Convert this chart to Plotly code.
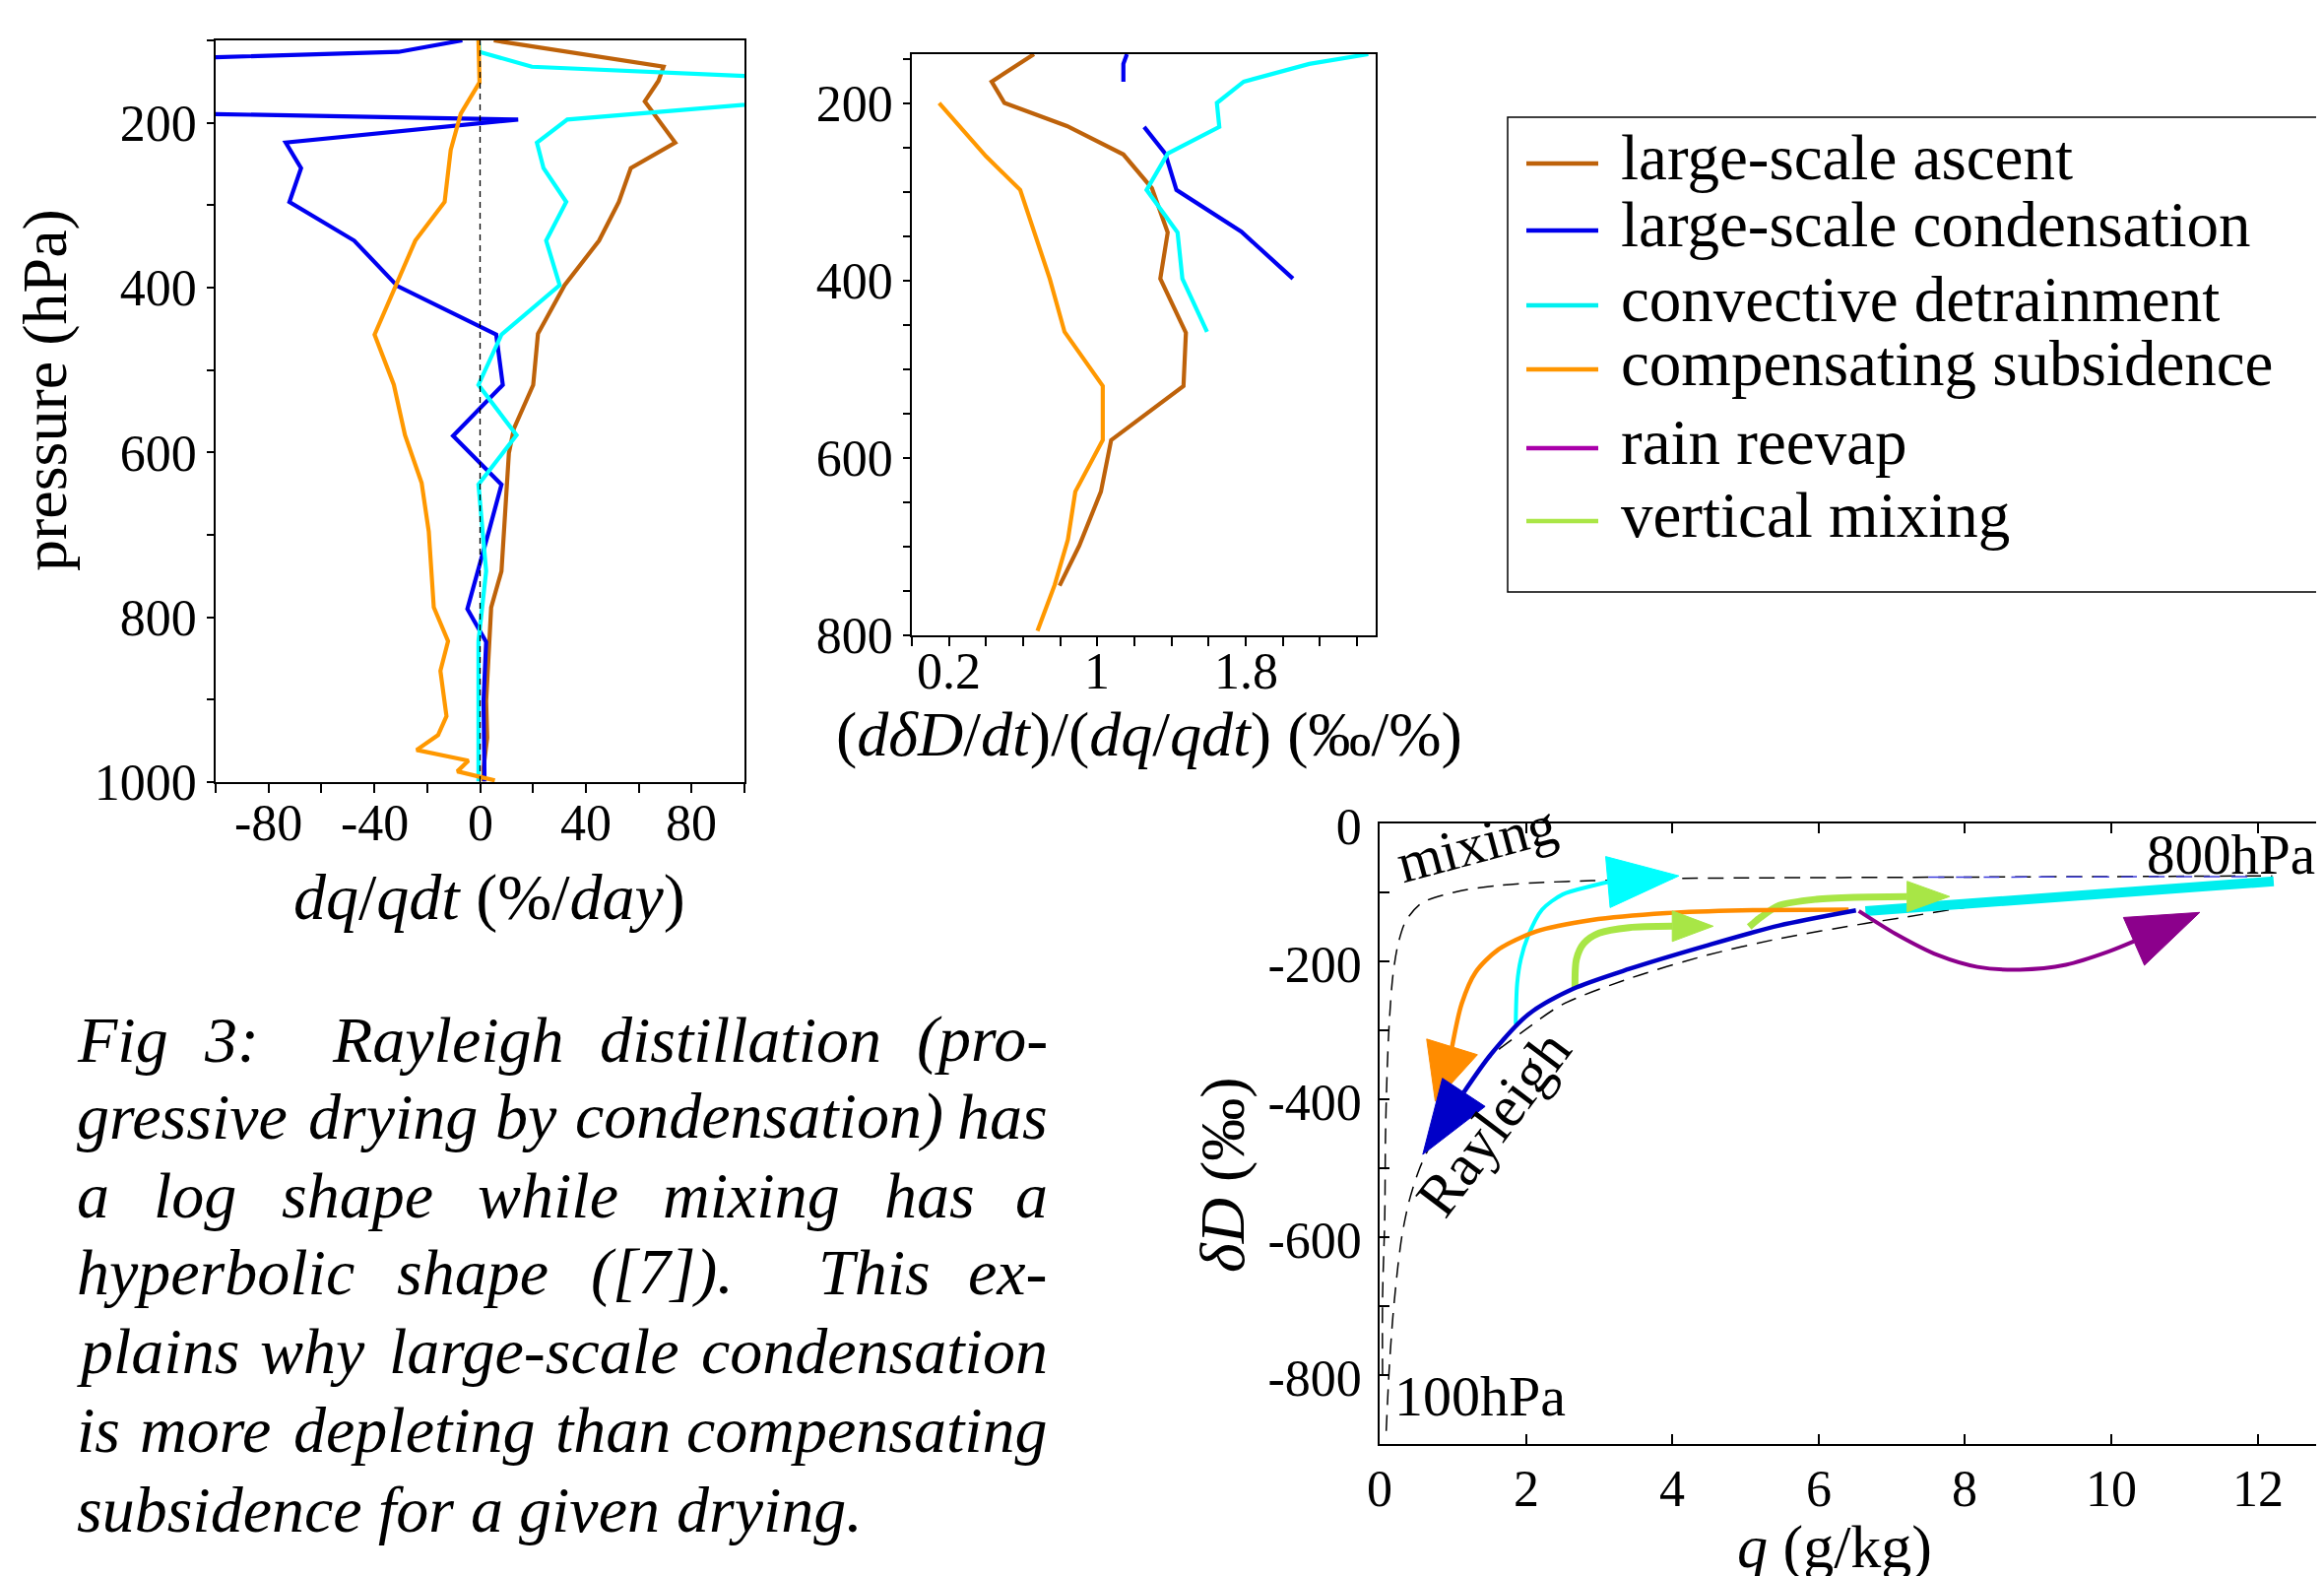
import math
import plotly.graph_objects as go

W, H = 2360, 1600
FONT = "Liberation Serif"

# ---------------- Panel 1 : dq/qdt (%/day) vs pressure ----------------
p1_ascent_p = [100, 132, 149, 174, 224, 255, 296, 343, 397, 456, 518, 571, 601, 689, 744, 788, 843, 902, 946, 983, 999]
p1_ascent_v = [5.2, 69.4, 67.5, 62.3, 73.8, 57, 52.5, 45, 32, 21.9, 20.1, 12.8, 10.9, 9.4, 8.1, 4.2, 3.3, 2.3, 2.7, 1.3, 1.3]
p1_cond_p = [100, 114, 126, 186, 196, 224, 255, 296, 343, 398, 457, 518, 580, 639, 696, 790, 830, 902, 999]
p1_cond_v = [-6.7, -30.9, -160, -160, 14.4, -73.5, -67.7, -72.1, -47.6, -31.3, 6.1, 8.6, -10.2, 8.1, 3.3, -4.8, 2.3, 1.3, 1.7]
p1_detr_p = [100, 114, 132, 150, 165, 196, 224, 255, 296, 343, 397, 457, 518, 579, 639, 744, 829, 999]
p1_detr_v = [-0.6, -0.2, 19.6, 150, 150, 33, 21.5, 24, 32.6, 25, 30.1, 8.1, -0.6, 13.8, -0.6, 2.3, -0.6, -0.6]
p1_subs_p = [100, 151, 189, 233, 296, 343, 457, 518, 579, 637, 696, 788, 829, 865, 920, 943, 961, 974, 987, 998]
p1_subs_v = [-0.6, -0.2, -7.3, -11.1, -13.4, -24.5, -39.9, -32.6, -28.4, -22.1, -19.4, -17.5, -12.1, -15, -12.7, -15.9, -24, -4.4, -8.6, 5.6]
p1_xticks = [-80, -40, 0, 40, 80]
p1_xticktext = ["-80", "-40", "0", "40", "80"]
p1_yticks = [200, 400, 600, 800, 1000]

# ---------------- Panel 2 : (d dD/dt)/(dq/qdt) vs pressure ----------------
p2_ascent_p = [145, 176, 200, 226, 258, 296, 346, 398, 459, 519, 580, 638, 699, 744]
p2_ascent_v = [0.658, 0.430, 0.499, 0.836, 1.140, 1.294, 1.379, 1.339, 1.477, 1.464, 1.074, 1.019, 0.902, 0.796]
p2_cond_p = [145, 156, 176, None, 227, 257, 298, 345, 398]
p2_cond_v = [1.159, 1.140, 1.140, None, 1.252, 1.366, 1.426, 1.776, 2.054]
p2_detr_p = [145, 156, 176, 200, 227, 257, 298, 346, 398, 458]
p2_detr_v = [2.460, 2.142, 1.789, 1.644, 1.657, 1.379, 1.265, 1.432, 1.458, 1.591]
p2_subs_p = [200, 260, 298, 398, 458, 519, 580, 638, 692, 743, 795]
p2_subs_v = [0.147, 0.399, 0.584, 0.743, 0.823, 1.029, 1.029, 0.881, 0.841, 0.770, 0.677]
p2_xticks = [0.2, 1, 1.8]
p2_xticktext = ["0.2", "1", "1.8"]
p2_yticks = [200, 400, 600, 800]

# ---------------- Panel 3 : dD vs q schematic ----------------
mix_q = [0.04, 0.04, 0.07, 0.08, 0.10, 0.13, 0.18, 0.25, 0.36, 0.58, 1.10, 1.62, 2.13, 2.90, 3.92, 4.95, 7.5, 10.0, 12.2]
mix_dD = [-799, -688, -572, -455, -368, -292, -222, -176, -141, -115, -98, -90, -86, -83, -80, -79, -78, -77, -76]
mixblue_q = [7.5, 9.5, 11.9]
mixblue_dD = [-78, -77.5, -77]
ray_q = [0.09, 0.13, 0.18, 0.25, 0.31, 0.40, 0.54, 0.72, 1.01, 1.51, 1.97, 2.49, 3.41, 4.44, 5.46, 6.64, 7.18, 8.12, 9.5, 11.0, 12.2]
ray_dD = [-881, -793, -717, -642, -595, -549, -502, -461, -409, -339, -301, -263, -225, -192, -167, -145, -136, -120, -104, -90, -80]

thick_q = [6.64, 9.29, 12.22]
thick_dD = [-127, -106, -84]
orange_q = [6.41, 4.95, 3.92, 2.90, 2.13, 1.62, 1.31, 1.12, 0.99]
orange_dD = [-125, -126, -130, -140, -157, -183, -216, -262, -324]
blue_q = [6.51, 5.46, 4.44, 3.41, 2.64, 2.03, 1.52, 1.15]
blue_dD = [-126, -148, -178, -211, -240, -277, -335, -390]
cyan_q = [1.86, 1.88, 1.93, 2.03, 2.22, 2.50, 2.88, 3.12]
cyan_dD = [-291, -232, -197, -163, -125, -103, -91, -85]
green1_q = [2.67, 2.69, 2.79, 3.00, 3.41, 4.00]
green1_dD = [-237, -197, -174, -159, -151, -149]
green2_q = [5.05, 5.21, 5.46, 5.97, 6.49, 7.21]
green2_dD = [-150, -136, -119, -110, -107, -106]
purple_q = [6.55, 7.05, 7.63, 8.17, 8.75, 9.38, 9.96, 10.31]
purple_dD = [-127, -160, -191, -208, -212, -205, -186, -171]

# arrowheads: (tip, base centre)
head_cyan = [(4.09, -76), (3.12, -85)]
head_orange = [(0.76, -403), (0.99, -324)]
head_blue = [(0.59, -480), (1.15, -390)]
head_purple = [(11.21, -129), (10.31, -171)]
head_green1 = [(4.56, -149), (4.00, -149)]
head_green2 = [(7.79, -106), (7.21, -106)]

p3_xticks = [0, 2, 4, 6, 8, 10, 12]
p3_xticktext = ["0", "2", "4", "6", "8", "10", "12"]
p3_yticks = [0, -200, -400, -600, -800]
p3_yticktext = ["0", "-200", "-400", "-600", "-800"]

legend_names = ["large-scale ascent", "large-scale condensation", "convective detrainment",
                "compensating subsidence", "rain reevap", "vertical mixing"]
legend_colors = ["rgb(190,98,10)", "rgb(0,0,235)", "rgb(0,240,240)",
                 "rgb(255,150,0)", "rgb(170,0,170)", "rgb(170,230,70)"]

caption_lines = [
    "Fig 3:  Rayleigh distillation (pro-",
    "gressive drying by condensation) has",
    "a log shape while mixing has a",
    "hyperbolic shape ([7]).  This ex-",
    "plains why large-scale condensation",
    "is more depleting than compensating",
    "subsidence for a given drying.",
]

C_BROWN = "rgb(190,98,10)"
C_BLUE = "rgb(0,0,240)"
C_CYAN = "rgb(0,255,255)"
C_ORANGE = "rgb(255,152,0)"

# ---------------- geometry (pixels) ----------------
P1 = dict(l=211, r=748, t=33, b=786)
P2 = dict(l=918, r=1389, t=47, b=637)
P3 = dict(l=1393, r=2344, t=828, b=1458)
X3_RANGE = [0, 12.8]
Y3_RANGE = [-900, 0]


def px(x):
    return x / W


def py(y):
    return 1 - y / H


fig = go.Figure()

# Panel 1 traces
for v, p, c in [(p1_ascent_v, p1_ascent_p, C_BROWN), (p1_cond_v, p1_cond_p, C_BLUE),
                (p1_detr_v, p1_detr_p, C_CYAN), (p1_subs_v, p1_subs_p, C_ORANGE)]:
    fig.add_trace(go.Scatter(x=v, y=p, mode="lines", line=dict(color=c, width=4.2),
                             xaxis="x", yaxis="y", showlegend=False, cliponaxis=True))

# Panel 2 traces
for v, p, c in [(p2_ascent_v, p2_ascent_p, C_BROWN), (p2_cond_v, p2_cond_p, C_BLUE),
                (p2_detr_v, p2_detr_p, C_CYAN), (p2_subs_v, p2_subs_p, C_ORANGE)]:
    fig.add_trace(go.Scatter(x=v, y=p, mode="lines", line=dict(color=c, width=4.2),
                             xaxis="x2", yaxis="y2", showlegend=False, connectgaps=False))

# Panel 3 traces
def p3_line(x, y, color, width, dash=None, shape="spline"):
    fig.add_trace(go.Scatter(x=x, y=y, mode="lines",
                             line=dict(color=color, width=width, dash=dash, shape=shape, smoothing=0.8),
                             xaxis="x3", yaxis="y3", showlegend=False, hoverinfo="skip"))

p3_line(mix_q, mix_dD, "black", 1.5, dash="16px,10px")
p3_line(ray_q, ray_dD, "black", 1.5, dash="16px,10px")
p3_line(mixblue_q, mixblue_dD, "rgb(60,60,220)", 1.5, dash="16px,12px")
p3_line(thick_q, thick_dD, "rgb(0,238,238)", 10, shape="linear")
p3_line(purple_q, purple_dD, "rgb(140,0,140)", 4)
p3_line(green2_q, green2_dD, "rgb(168,230,70)", 7)
p3_line(cyan_q, cyan_dD, C_CYAN, 4)
p3_line(orange_q, orange_dD, "rgb(255,140,0)", 4.5)
p3_line(green1_q, green1_dD, "rgb(168,230,70)", 7)
p3_line(blue_q, blue_dD, "rgb(0,0,200)", 4.5)

X3_PX = (P3["r"] - P3["l"]) / (X3_RANGE[1] - X3_RANGE[0])
Y3_PX = (P3["b"] - P3["t"]) / (Y3_RANGE[1] - Y3_RANGE[0])


def add_head(h, width, color):
    (tq, td), (bq, bd) = h
    tx, ty = tq * X3_PX, td * Y3_PX
    bx, by = bq * X3_PX, bd * Y3_PX
    dx, dy = tx - bx, ty - by
    L = math.hypot(dx, dy)
    nx, ny = -dy / L, dx / L
    c1 = ((bx + nx * width / 2) / X3_PX, (by + ny * width / 2) / Y3_PX)
    c2 = ((bx - nx * width / 2) / X3_PX, (by - ny * width / 2) / Y3_PX)
    fig.add_trace(go.Scatter(x=[tq, c1[0], c2[0], tq], y=[td, c1[1], c2[1], td],
                             mode="lines", fill="toself", fillcolor=color,
                             line=dict(color=color, width=1), xaxis="x3", yaxis="y3",
                             showlegend=False, hoverinfo="skip"))


add_head(head_purple, 53, "rgb(140,0,140)")
add_head(head_green2, 31, "rgb(168,230,70)")
add_head(head_cyan, 52, C_CYAN)
add_head(head_green1, 31, "rgb(168,230,70)")
add_head(head_orange, 54, "rgb(255,140,0)")
add_head(head_blue, 52, "rgb(0,0,200)")

tickfont = dict(family=FONT, size=52, color="black")
common = dict(showgrid=False, zeroline=False, showline=True, linecolor="black", linewidth=1.5,
              tickfont=tickfont, tickcolor="black", tickwidth=1.5, automargin=False)

fig.update_layout(
    width=W, height=H, margin=dict(l=0, r=0, t=0, b=0, pad=0, autoexpand=False),
    paper_bgcolor="white", plot_bgcolor="white", showlegend=False,
    xaxis=dict(domain=[px(P1["l"]), px(P1["r"])], range=[-100, 100], anchor="y",
               tickmode="array", tickvals=p1_xticks, showticklabels=False,
               ticks="outside", ticklen=9, mirror=True,
               minor=dict(dtick=20, tick0=0, ticks="outside", ticklen=9, tickcolor="black"), **common),
    yaxis=dict(domain=[py(P1["b"]), py(P1["t"])], range=[1000, 100], anchor="x",
               tickmode="array", tickvals=p1_yticks,
               ticks="outside", ticklen=7, mirror=True, ticklabelstandoff=0,
               minor=dict(dtick=100, tick0=0, ticks="outside", ticklen=7, tickcolor="black"), **common),
    xaxis2=dict(domain=[px(P2["l"]), px(P2["r"])], range=[0, 2.5], anchor="y2",
                tickmode="array", tickvals=p2_xticks, showticklabels=False,
                ticks="outside", ticklen=9, mirror=True,
                minor=dict(dtick=0.2, tick0=0, ticks="outside", ticklen=9, tickcolor="black"), **common),
    yaxis2=dict(domain=[py(P2["b"]), py(P2["t"])], range=[800, 145], anchor="x2",
                tickmode="array", tickvals=p2_yticks,
                ticks="outside", ticklen=7, mirror=True, ticklabelstandoff=0,
                minor=dict(dtick=50, tick0=0, ticks="outside", ticklen=7, tickcolor="black"), **common),
    xaxis3=dict(domain=[px(P3["l"]), px(P3["r"])], range=X3_RANGE, anchor="y3",
                tickmode="array", tickvals=p3_xticks, showticklabels=False,
                ticks="inside", ticklen=10, mirror="ticks", **common),
    yaxis3=dict(domain=[py(P3["b"]), py(P3["t"])], range=Y3_RANGE, anchor="x3",
                tickmode="array", tickvals=p3_yticks, ticktext=p3_yticktext,
                ticks="inside", ticklen=10, mirror=True, ticklabelstandoff=6, ticklabelshift=3,
                minor=dict(dtick=100, tick0=0, ticks="inside", ticklen=10, tickcolor="black"), **common),
)

# zero line in panel 1
fig.add_shape(type="line", xref="x", yref="y domain", x0=0, x1=0, y0=0, y1=1,
              line=dict(color="black", width=1.3, dash="6px,5px"))

annots = []


def ann(x, y, text, size, angle=0, xanchor="center", yanchor="middle", xref="paper", yref="paper"):
    annots.append(dict(x=x, y=y, xref=xref, yref=yref, text=text, showarrow=False,
                       textangle=angle, xanchor=xanchor, yanchor=yanchor,
                       font=dict(family=FONT, size=size, color="black")))


# x tick labels (placed under each axis)
for vals, texts, xr, ylab in [(p1_xticks, p1_xticktext, "x", 828),
                              (p2_xticks, p2_xticktext, "x2", 673),
                              (p3_xticks, p3_xticktext, "x3", 1503)]:
    for v, t in zip(vals, texts):
        ann(v, py(ylab), t, 52, xref=xr, yref="paper")

# axis titles
ann(px(38), py(388), "pressure (hPa)", 64, angle=-90)
ann(px(489), py(903), "<i>dq</i>/<i>qdt</i> (%/<i>day</i>)", 66)
ann(px(1159), py(737), "(<i>dδD</i>/<i>dt</i>)/(<i>dq</i>/<i>qdt</i>) (‰/%)", 64)
ann(px(1233), py(1185), "<i>δD</i> (‰)", 64, angle=-90)
ann(px(1855), py(1562), "<i>q</i> (g/kg)", 62)

# panel 3 labels
ann(1.32, -29, "mixing", 58, angle=-15, xref="x3", yref="y3")
ann(1.56, -434, "Rayleigh", 60, angle=-53, xref="x3", yref="y3")
ann(1.37, -830, "100hPa", 58, xref="x3", yref="y3")
ann(11.63, -45, "800hPa", 57, xref="x3", yref="y3")

# legend (box, samples, labels)
fig.add_shape(type="rect", xref="paper", yref="paper", x0=px(1523), x1=px(2345), y0=py(593), y1=py(111),
              line=dict(color="black", width=1.5), fillcolor="rgba(0,0,0,0)")
legend_rows = [158, 226, 302, 367, 447, 521]
for name, col, ry in zip(legend_names, legend_colors, legend_rows):
    fig.add_shape(type="line", xref="paper", yref="paper", x0=px(1542), x1=px(1615), y0=py(ry), y1=py(ry),
                  line=dict(color=col, width=4.5))
    ann(px(1636), py(ry - 6), name, 65, xanchor="left")

# caption (justified)
ITALIC_W = {' ': 250, '(': 333, ')': 333, '-': 333, '.': 250, ':': 333, '[': 389, ']': 389,
            '3': 500, '7': 500, 'F': 611, 'R': 611, 'T': 556,
            'a': 500, 'b': 500, 'c': 444, 'd': 500, 'e': 444, 'f': 278, 'g': 500, 'h': 500,
            'i': 278, 'j': 278, 'k': 444, 'l': 278, 'm': 722, 'n': 500, 'o': 500, 'p': 500,
            'q': 500, 'r': 389, 's': 389, 't': 278, 'u': 500, 'v': 444, 'w': 667, 'x': 444,
            'y': 444, 'z': 389}
CAP_SIZE = 66
CAP_L, CAP_R = 68, 1058
cap_rows = [1047, 1125, 1205, 1283, 1363, 1443, 1524]


def wwidth(s):
    return sum(ITALIC_W.get(ch, 500) for ch in s) * CAP_SIZE / 1000.0


for i, (line, ry) in enumerate(zip(caption_lines, cap_rows)):
    words, weights, pending = [], [], 0
    for tok in line.split(' '):
        if tok == '':
            pending += 1
            continue
        if words:
            weights.append(1 + pending)
        pending = 0
        words.append(tok)
    last = (i == len(caption_lines) - 1)
    natural = [0.25 * CAP_SIZE * wt for wt in weights]
    total = sum(wwidth(w) for w in words) + sum(natural)
    extra = 0 if last else (CAP_R - CAP_L - total)
    gaps = [n + extra * wt / sum(weights) for n, wt in zip(natural, weights)]
    xpos = CAP_L
    for j, w in enumerate(words):
        if j == len(words) - 1 and not last:
            ann(px(CAP_R), py(ry), "<i>" + w + "</i>", CAP_SIZE, xanchor="right")
        else:
            ann(px(xpos), py(ry), "<i>" + w + "</i>", CAP_SIZE, xanchor="left")
        if j < len(gaps):
            xpos += wwidth(w) + gaps[j]

fig.update_layout(annotations=annots)
fig.write_html("out.html")
